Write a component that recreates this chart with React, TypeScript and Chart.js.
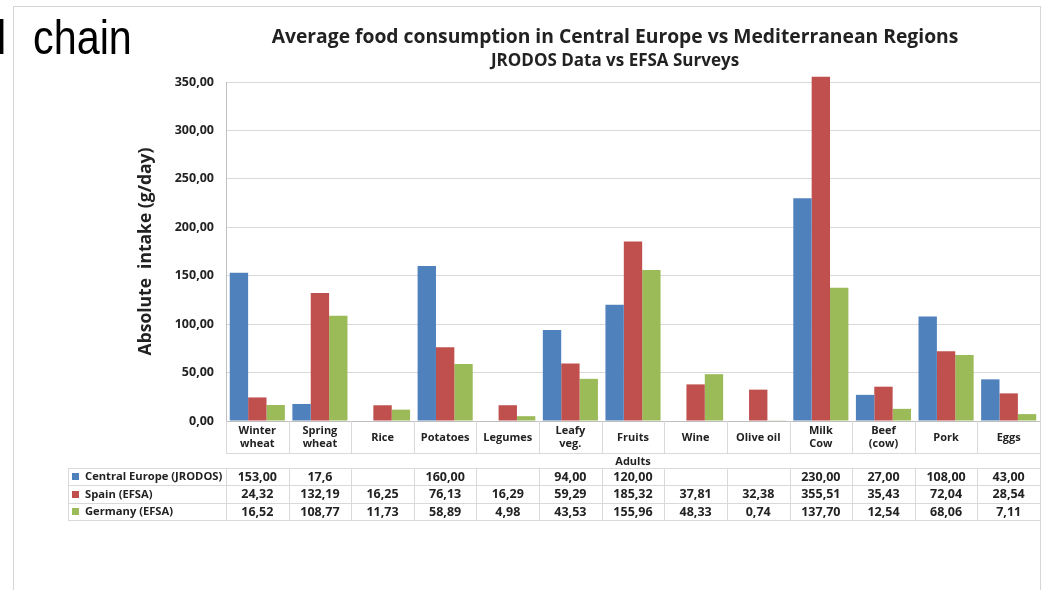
import React, { useEffect, useRef } from "react";
import { Chart, registerables } from "chart.js";

Chart.register(...registerables);

// ---------- data ----------
const categories: (string | string[])[] = [
  ["Winter", "wheat"],
  ["Spring", "wheat"],
  "Rice",
  "Potatoes",
  "Legumes",
  ["Leafy", "veg."],
  "Fruits",
  "Wine",
  "Olive oil",
  ["Milk", "Cow"],
  ["Beef", "(cow)"],
  "Pork",
  "Eggs",
];
const seriesNames = ["Central Europe (JRODOS)", "Spain (EFSA)", "Germany (EFSA)"];
const centralEurope = [153.0, 17.6, null, 160.0, null, 94.0, 120.0, null, null, 230.0, 27.0, 108.0, 43.0];
const centralDecimals = [2, 1, 2, 2, 2, 2, 2, 2, 2, 2, 2, 2, 2];
const spain = [24.32, 132.19, 16.25, 76.13, 16.29, 59.29, 185.32, 37.81, 32.38, 355.51, 35.43, 72.04, 28.54];
const germany = [16.52, 108.77, 11.73, 58.89, 4.98, 43.53, 155.96, 48.33, 0.74, 137.7, 12.54, 68.06, 7.11];
const seriesColors = ["#4F81BD", "#C0504D", "#9BBB59"];
const yMin = 0;
const yMax = 350;
const yStep = 50;
const titleText = "Average food consumption in Central Europe vs Mediterranean Regions";
const subtitleText = "JRODOS Data vs EFSA Surveys";
const yTitle = "Absolute  intake (g/day)";
const xTitle = "Adults";

const FONT = "'Open Sans', 'DejaVu Sans', sans-serif";
const TEXT = "#222222";
const LINE = "#d9d9d9";
const HEADER_X = 615;

const fmt = (v: number | null, dec = 2) =>
  v === null || v === undefined ? "" : v.toFixed(dec).replace(".", ",");

const headerPlugin = {
  id: "header",
  afterDraw(chart: any) {
    const { ctx } = chart;
    ctx.save();
    ctx.fillStyle = TEXT;
    ctx.textAlign = "center";
    ctx.textBaseline = "middle";
    ctx.font = `bold 19.3px ${FONT}`;
    ctx.fillText(titleText, HEADER_X, 38);
    ctx.font = `bold 17px ${FONT}`;
    ctx.fillText(subtitleText, HEADER_X, 61);
    ctx.restore();
  },
};

const tablePlugin = {
  id: "dataTable",
  afterDraw(chart: any) {
    const { ctx, chartArea } = chart;
    const x = chart.scales.x;
    const n = categories.length;
    const colW = (x.right - x.left) / n;
    const bounds = Array.from({ length: n + 1 }, (_, i) => x.left + i * colW);
    const px = (v: number) => Math.round(v) + 0.5;
    const line = (x1: number, y1: number, x2: number, y2: number) => {
      ctx.beginPath();
      ctx.moveTo(x1, y1);
      ctx.lineTo(x2, y2);
      ctx.stroke();
    };
    ctx.save();
    ctx.strokeStyle = LINE;
    ctx.lineWidth = 1;

    // category label cells under the axis
    const labTop = chartArea.bottom;
    const labBot = chartArea.bottom + 32;
    bounds.forEach((b) => line(px(b), labTop, px(b), labBot));
    line(x.left, px(labBot), x.right, px(labBot));

    // data table
    const tableLeft = 68;
    const rowH = 17.4;
    const tTop = x.bottom - 1;
    const rows = [centralEurope, spain, germany];
    for (let r = 0; r <= rows.length; r++) {
      const y = px(tTop + r * rowH);
      line(tableLeft, y, x.right, y);
    }
    const tBot = tTop + rows.length * rowH;
    line(px(tableLeft), tTop, px(tableLeft), tBot);
    bounds.forEach((b) => line(px(b), tTop, px(b), tBot));

    ctx.textBaseline = "middle";
    rows.forEach((vals, r) => {
      const cy = tTop + r * rowH + rowH / 2;
      ctx.fillStyle = seriesColors[r];
      ctx.fillRect(tableLeft + 4, Math.round(cy - 3.5), 7, 7);
      ctx.fillStyle = TEXT;
      ctx.textAlign = "left";
      ctx.font = `bold 11.2px ${FONT}`;
      ctx.fillText(seriesNames[r], tableLeft + 17, cy + 0.5);
      ctx.textAlign = "center";
      ctx.font = `bold 12.5px ${FONT}`;
      vals.forEach((v, i) => {
        const dec = r === 0 ? centralDecimals[i] : 2;
        ctx.fillText(fmt(v as number | null, dec), x.getPixelForValue(i), cy + 0.5);
      });
    });
    ctx.restore();
  },
};

export default function App() {
  const ref = useRef<HTMLCanvasElement>(null);

  useEffect(() => {
    if (!ref.current) return;
    const data = [centralEurope, spain, germany];
    const chart = new Chart(ref.current, {
      type: "bar",
      data: {
        labels: categories as any,
        datasets: data.map((d, i) => ({
          label: seriesNames[i],
          data: d as any,
          backgroundColor: seriesColors[i],
          borderWidth: 0,
          categoryPercentage: 0.88,
          barPercentage: 1.0,
          clip: false as any,
        })),
      },
      options: {
        responsive: false,
        animation: false,
        layout: { padding: { top: 82, left: 0, right: 3, bottom: 121 } },
        plugins: {
          legend: { display: false },
          tooltip: { enabled: false },
          title: { display: false },
        },
        scales: {
          x: {
            grid: { display: false, drawTicks: false },
            border: { display: true, color: "#bfbfbf", width: 1 },
            ticks: {
              color: TEXT,
              font: { family: FONT, size: 11, weight: "bold" },
              padding: 10,
              maxRotation: 0,
              minRotation: 0,
              autoSkip: false,
              crossAlign: "center" as any,
            },
            title: {
              display: true,
              text: xTitle,
              color: TEXT,
              font: { family: FONT, size: 11, weight: "bold" },
              padding: { top: 0, bottom: 1 },
            },
            afterFit(scale: any) {
              scale.height = 48;
            },
          },
          y: {
            min: yMin,
            max: yMax,
            grid: { color: LINE, drawTicks: false },
            border: { display: true, color: "#bfbfbf", width: 1 },
            ticks: {
              stepSize: yStep,
              color: TEXT,
              padding: 12,
              font: { family: FONT, size: 12.5, weight: "bold" },
              callback: (v: any) => fmt(Number(v)),
            },
            title: {
              display: true,
              text: yTitle,
              color: TEXT,
              font: { family: FONT, size: 17.5, weight: "bold" },
              padding: { top: 136, bottom: 0 },
            },
            afterFit(scale: any) {
              scale.width = 226;
            },
          },
        },
      },
      plugins: [headerPlugin, tablePlugin],
    });
    return () => chart.destroy();
  }, []);

  return (
    <div
      style={{
        position: "fixed",
        left: 0,
        top: 0,
        width: 1043,
        height: 590,
        background: "#fff",
        overflow: "hidden",
      }}
    >
      <canvas ref={ref} width={1043} height={590} style={{ position: "absolute", left: 0, top: 0 }} />
      <div style={{ position: "absolute", left: 13, top: 6, width: 1028, height: 1, background: "#d6d6d6" }} />
      <div style={{ position: "absolute", left: 13, top: 6, width: 1, height: 584, background: "#d6d6d6" }} />
      <div style={{ position: "absolute", left: 1040, top: 6, width: 1, height: 584, background: "#d6d6d6" }} />
      <div
        style={{
          position: "absolute",
          left: -3,
          top: 14,
          fontFamily: "'Liberation Sans', Arial, sans-serif",
          fontSize: 48,
          lineHeight: "48px",
          color: "#000",
          whiteSpace: "nowrap",
          wordSpacing: 18,
          transform: "scaleX(0.86)",
          transformOrigin: "left top",
        }}
      >
        l chain
      </div>
    </div>
  );
}
